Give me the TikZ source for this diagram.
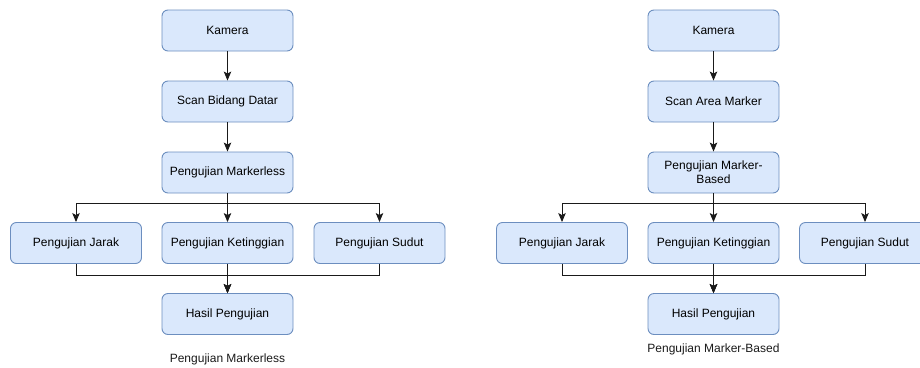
\documentclass[tikz,border=0pt]{standalone}
\usepackage{fontspec}
\setmainfont{Liberation Sans}
\usepackage{xcolor}
\usepackage{tikz}
\usetikzlibrary{arrows.meta,positioning}
\definecolor{boxfill}{HTML}{DAE8FC}
\definecolor{boxdraw}{HTML}{6C8EBF}
\definecolor{lineC}{HTML}{1A1A1A}

\begin{document}
\begin{tikzpicture}[
  x=1pt,y=1pt,
  box/.style={rounded corners=6pt,draw=boxdraw,fill=boxfill,line width=0.9pt,
              align=center,font=\fontsize{12}{14}\selectfont,
              minimum width=131pt,minimum height=41pt,inner sep=2pt},
  arr/.style={-{Stealth[length=9pt,width=7.5pt,inset=2pt]},draw=lineC,line width=0.9pt},
  lnk/.style={draw=lineC,line width=0.9pt},
  caption/.style={font=\fontsize{12}{14}\selectfont,text=lineC}
]
  \useasboundingbox (0,0) rectangle (920,-367);

  % Left flow: markerless
  \node[box] (kamL) at (227.5,-30.5) {Kamera};
  \node[box] (scanL) at (227.5,-101.5) {Scan Bidang Datar};
  \node[box] (mlL) at (227.5,-172.5) {Pengujian Markerless};
  \node[box] (jarakL) at (76,-243) {Pengujian Jarak};
  \node[box] (tinggiL) at (227.5,-243) {Pengujian Ketinggian};
  \node[box] (sudutL) at (379.5,-243) {Pengujian Sudut};
  \node[box] (hasilL) at (227.5,-314) {Hasil Pengujian};
  \node[caption] (capL) at (227.5,-359) {Pengujian Markerless};

  % Right flow: marker-based
  \node[box] (kamR) at (713.5,-30.5) {Kamera};
  \node[box] (scanR) at (713.5,-101.5) {Scan Area Marker};
  \node[box] (mbR) at (713.5,-172.5) {Pengujian Marker-\\Based};
  \node[box] (jarakR) at (562,-243) {Pengujian Jarak};
  \node[box] (tinggiR) at (713.5,-243) {Pengujian Ketinggian};
  \node[box] (sudutR) at (865,-243) {Pengujian Sudut};
  \node[box] (hasilR) at (713.5,-314) {Hasil Pengujian};
  \node[caption] (capR) at (713.5,-349) {Pengujian Marker-Based};

  % Arrows, left
  \draw[arr] (kamL) -- (scanL);
  \draw[arr] (scanL) -- (mlL);
  \draw[arr] (mlL) -- (tinggiL);
  \draw[arr] (mlL.south) -- ++(0,-10) -| (jarakL.north);
  \draw[arr] (mlL.south) -- ++(0,-10) -| (sudutL.north);
  \draw[arr] (tinggiL) -- (hasilL);
  \draw[arr] (jarakL.south) -- ++(0,-11) -| (hasilL.north);
  \draw[arr] (sudutL.south) -- ++(0,-11) -| (hasilL.north);

  % Arrows, right
  \draw[arr] (kamR) -- (scanR);
  \draw[arr] (scanR) -- (mbR);
  \draw[arr] (mbR) -- (tinggiR);
  \draw[arr] (mbR.south) -- ++(0,-10) -| (jarakR.north);
  \draw[arr] (mbR.south) -- ++(0,-10) -| (sudutR.north);
  \draw[arr] (tinggiR) -- (hasilR);
  \draw[arr] (jarakR.south) -- ++(0,-11) -| (hasilR.north);
  \draw[arr] (sudutR.south) -- ++(0,-11) -| (hasilR.north);
\end{tikzpicture}
\end{document}
